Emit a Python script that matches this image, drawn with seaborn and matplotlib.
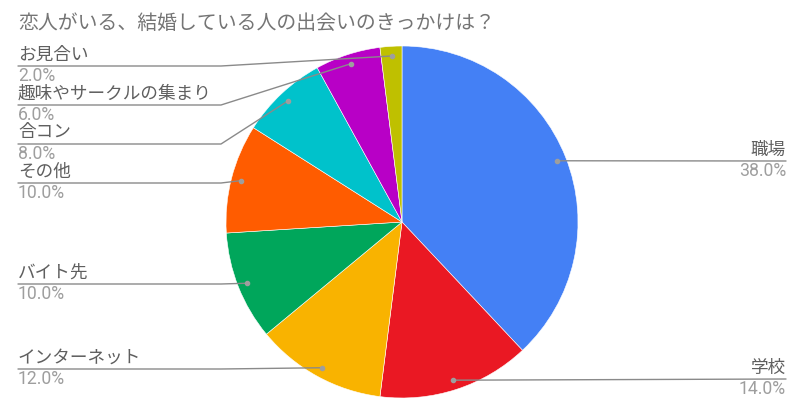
import numpy as np
import seaborn as sns
import matplotlib.pyplot as plt

sns.set_theme(style="white")
plt.rcParams["font.family"] = ["Roboto", "Noto Sans CJK JP", "DejaVu Sans"]

title = "恋人がいる、結婚している人の出会いのきっかけは？"
labels = ["職場", "学校", "インターネット", "バイト先", "その他", "合コン",
          "趣味やサークルの集まり", "お見合い"]
shares = [38.0, 14.0, 12.0, 10.0, 10.0, 8.0, 6.0, 2.0]
colors = ["#4480F5", "#EA1823", "#F9B300", "#00A65B", "#FF5C00", "#00C2CB",
          "#B800C6", "#BFC000"]

# label layout (pixel coords): side and y of the leader line
sides = ["right", "right", "left", "left", "left", "left", "left", "left"]
line_y = [161, 379, 369, 284, 183, 144, 105, 66]

W, H = 804, 416
cx, cy, R = 402, 222, 176

fig = plt.figure(figsize=(W / 100, H / 100), dpi=100)
ax = fig.add_axes([0, 0, 1, 1])

pal = sns.color_palette(colors)
# y axis is inverted below, so counterclock=True in data is clockwise on screen
wedges, _ = ax.pie(shares, colors=pal, startangle=-90, counterclock=True,
                   center=(cx, cy), radius=R,
                   wedgeprops=dict(edgecolor="white", linewidth=0.4))

ax.set_xlim(0, W)
ax.set_ylim(H, 0)
ax.set_aspect("auto")
ax.axis("off")

name_c = "#5f5f5f"
pct_c = "#9e9e9e"
line_c = "#8a8a8a"

for w, lab, val, side, ly in zip(wedges, labels, shares, sides, line_y):
    mid = np.deg2rad((w.theta1 + w.theta2) / 2)
    dx = cx + 0.945 * R * np.cos(mid)
    dy = cy + 0.945 * R * np.sin(mid)
    ax.plot(dx, dy, "o", ms=3, color="#9e9e9e", zorder=5)
    if side == "left":
        ex = min(dx, 221)
        ax.plot([18, ex, dx], [ly, ly, dy], color=line_c, lw=1, zorder=4)
        tx, ha = 18, "left"
    else:
        ax.plot([dx, 786], [dy, ly], color=line_c, lw=1, zorder=4)
        tx, ha = 786, "right"
    ax.text(tx, ly - 11.5, lab, ha=ha, va="center", fontsize=12.7, color=name_c)
    ax.text(tx, ly + 10, f"{val:.1f}%", ha=ha, va="center", fontsize=12.7,
            color=pct_c)

ax.text(18, 23, title, ha="left", va="center", fontsize=14.3, color="#757575")

fig.savefig("out.png", dpi=100, facecolor="white")
